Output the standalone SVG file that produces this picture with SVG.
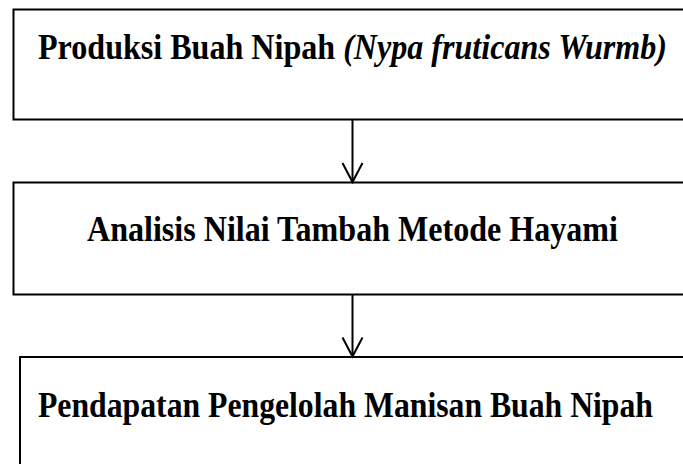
<svg xmlns="http://www.w3.org/2000/svg" width="683" height="464" viewBox="0 0 683 464">
<style>
.box{fill:#fff;stroke:#000;stroke-width:2}
.lbl{font-family:"Liberation Serif","Times New Roman",serif;font-weight:bold;font-size:35px;fill:#000}
.it{font-style:italic}
.con{stroke:#000;stroke-width:2;fill:none}
</style>
<defs>
<marker id="arr" markerUnits="userSpaceOnUse" markerWidth="24" markerHeight="24" viewBox="-20 -12 24 24" refX="0" refY="0" orient="auto" overflow="visible">
<path d="M-19,-10 L0,0 L-19,10" fill="none" stroke="#000" stroke-width="2"/>
</marker>
</defs>
<g id="node1">
<rect class="box" x="13.5" y="9.5" width="690" height="110"/>
<text class="lbl" x="38" y="59" textLength="629" lengthAdjust="spacingAndGlyphs">Produksi Buah Nipah <tspan class="it">(Nypa fruticans Wurmb)</tspan></text>
</g>
<g id="node2">
<rect class="box" x="13.5" y="182.5" width="690" height="112"/>
<text class="lbl" x="87" y="241" textLength="531" lengthAdjust="spacingAndGlyphs">Analisis Nilai Tambah Metode Hayami</text>
</g>
<g id="node3">
<rect class="box" x="20" y="357" width="690" height="130"/>
<text class="lbl" x="38" y="417" textLength="615" lengthAdjust="spacingAndGlyphs">Pendapatan Pengelolah Manisan Buah Nipah</text>
</g>
<g id="connectors">
<line class="con" x1="352.5" y1="120" x2="352.5" y2="182" marker-end="url(#arr)"/>
<line class="con" x1="352.5" y1="295" x2="352.5" y2="356.5" marker-end="url(#arr)"/>
</g>
</svg>
